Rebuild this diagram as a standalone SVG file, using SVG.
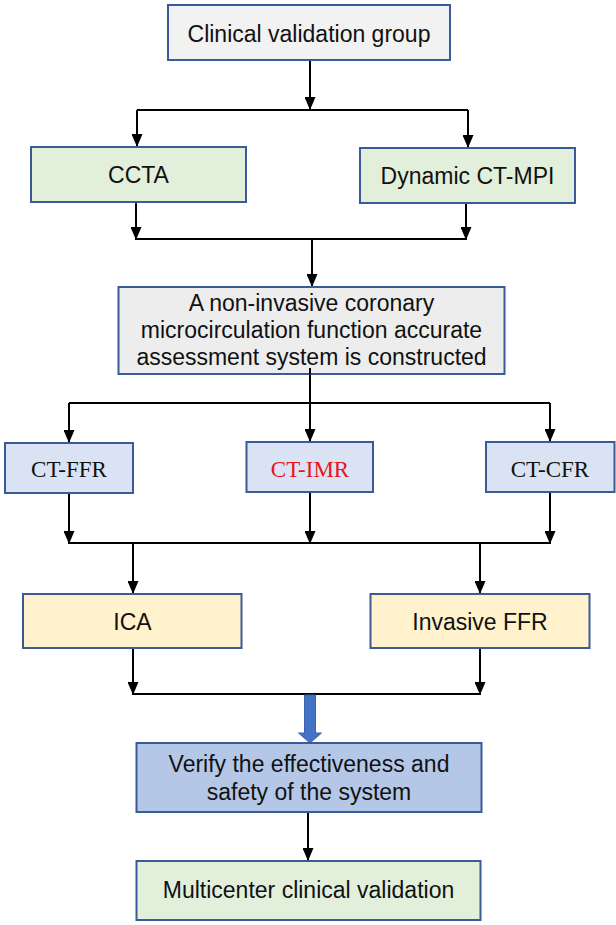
<svg xmlns="http://www.w3.org/2000/svg" width="616" height="925" viewBox="0 0 616 925">
<defs>
<style>
.box{stroke:#3A5A98;stroke-width:2}
.gray{fill:#F2F2F2}
.gray2{fill:#EDEDED}
.green{fill:#E2EFDA}
.ct{fill:#DAE3F3}
.yellow{fill:#FFF2CC}
.verify{fill:#B4C7E7}
.t{font-family:"Liberation Sans",Arial,sans-serif;font-size:23px;fill:#111;text-anchor:middle}
.s{font-family:"Liberation Serif","Times New Roman",serif;font-size:23px;fill:#111;text-anchor:middle}
.red{fill:#E8141B}
.ln{stroke:#000;stroke-width:2;fill:none}
.ar{stroke:#000;stroke-width:2;fill:none;marker-end:url(#ah)}
</style>
<marker id="ah" markerUnits="userSpaceOnUse" markerWidth="13" markerHeight="11" viewBox="0 0 13 11" refX="13" refY="5.5" orient="auto">
<path d="M0,0 L13,5.5 L0,11 Z" fill="#000"/>
</marker>
</defs>
<rect width="616" height="925" fill="#fff"/>
<g id="connectors">
<line class="ar" x1="310" y1="60" x2="310" y2="110"/>
<line class="ln" x1="137" y1="110" x2="468" y2="110"/>
<line class="ar" x1="137" y1="110" x2="137" y2="147"/>
<line class="ar" x1="468" y1="110" x2="468" y2="148"/>
<line class="ar" x1="136" y1="202" x2="136" y2="240"/>
<line class="ar" x1="466" y1="203" x2="466" y2="240"/>
<line class="ln" x1="136" y1="239" x2="466" y2="239"/>
<line class="ar" x1="312" y1="239" x2="312" y2="287"/>
<line class="ln" x1="310" y1="368" x2="310" y2="403"/>
<line class="ln" x1="69" y1="403" x2="550" y2="403"/>
<line class="ar" x1="69" y1="403" x2="69" y2="443"/>
<line class="ar" x1="310" y1="403" x2="310" y2="442"/>
<line class="ar" x1="550" y1="403" x2="550" y2="442"/>
<line class="ar" x1="69" y1="493" x2="69" y2="544"/>
<line class="ar" x1="310" y1="492" x2="310" y2="544"/>
<line class="ar" x1="550" y1="492" x2="550" y2="544"/>
<line class="ln" x1="69" y1="543" x2="550" y2="543"/>
<line class="ar" x1="133" y1="543" x2="133" y2="594"/>
<line class="ar" x1="480" y1="543" x2="480" y2="594"/>
<line class="ar" x1="133" y1="648" x2="133" y2="695"/>
<line class="ar" x1="480" y1="648" x2="480" y2="695"/>
<line class="ln" x1="132" y1="694" x2="481" y2="694"/>
<path d="M304.5,695 L315.5,695 L315.5,733 L321.5,733 L310,743 L298.5,733 L304.5,733 Z" fill="#4472C4" stroke="#3A62AE" stroke-width="1"/>
<line class="ar" x1="308" y1="812" x2="308" y2="861"/>
</g>
<g id="n-clinical">
<rect class="box gray" x="168" y="5" width="282" height="55"/>
<text class="t" x="309" y="41.5">Clinical validation group</text>
</g>
<g id="n-ccta">
<rect class="box green" x="31" y="147" width="215" height="55"/>
<text class="t" x="138.5" y="182.5">CCTA</text>
</g>
<g id="n-ctmpi">
<rect class="box green" x="360" y="148" width="215" height="55"/>
<text class="t" x="467.5" y="183.5">Dynamic CT-MPI</text>
</g>
<g id="n-system">
<rect class="box gray2" x="118.5" y="287" width="386" height="87"/>
<text class="t" x="311.5" y="310.5">A non-invasive coronary</text>
<text class="t" x="311.5" y="338">microcirculation function accurate</text>
<text class="t" x="311.5" y="365">assessment system is constructed</text>
</g>
<line class="ln" x1="310" y1="368" x2="310" y2="374.5"/>
<g id="n-ctffr">
<rect class="box ct" x="5" y="443" width="128" height="50"/>
<text class="s" x="69" y="476.5">CT-FFR</text>
</g>
<g id="n-ctimr">
<rect class="box ct" x="246.5" y="442" width="126.5" height="50"/>
<text class="s red" x="310" y="476.5">CT-IMR</text>
</g>
<g id="n-ctcfr">
<rect class="box ct" x="486" y="442" width="128.5" height="50"/>
<text class="s" x="550" y="476.5">CT-CFR</text>
</g>
<g id="n-ica">
<rect class="box yellow" x="23" y="594" width="218.5" height="54"/>
<text class="t" x="132.5" y="630">ICA</text>
</g>
<g id="n-invffr">
<rect class="box yellow" x="370.5" y="594" width="219" height="54"/>
<text class="t" x="480" y="630">Invasive FFR</text>
</g>
<g id="n-verify">
<rect class="box verify" x="136.5" y="743" width="345" height="69"/>
<text class="t" x="309" y="771.5">Verify the effectiveness and</text>
<text class="t" x="309" y="800">safety of the system</text>
</g>
<g id="n-multi">
<rect class="box green" x="136.5" y="861" width="344" height="59"/>
<text class="t" x="308.5" y="898">Multicenter clinical validation</text>
</g>
</svg>
